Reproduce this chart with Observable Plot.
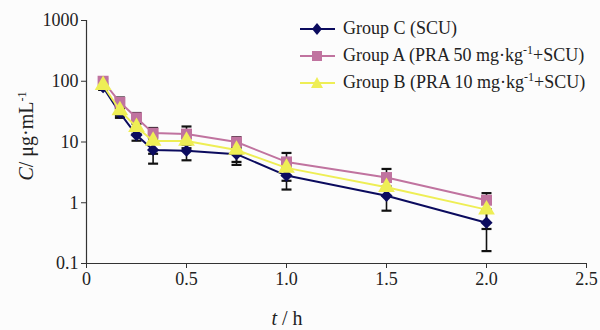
<!DOCTYPE html>
<html><head><meta charset="utf-8">
<script src="https://cdn.jsdelivr.net/npm/d3@7"></script>
<script src="https://cdn.jsdelivr.net/npm/@observablehq/plot@0.6"></script>
<style>
body{margin:0;background:#fcfcfc;}
#wrap{position:relative;width:600px;height:330px;font-family:"Liberation Serif","DejaVu Serif",serif;color:#222;background:#fcfcfc;}
#wrap > svg{position:absolute;left:0;top:0;}
.legend{position:absolute;left:300px;top:15px;font-size:18px;line-height:27px;}
.legend .row{display:flex;align-items:center;height:27px;white-space:nowrap;}
.legend .row svg{margin-right:7px;flex:none;}
sup{font-size:12px;vertical-align:7px;line-height:0;}
.ylab{position:absolute;left:26px;top:136px;transform:translate(-50%,-50%) rotate(-90deg);font-size:20px;white-space:nowrap;}
.xlab{position:absolute;left:287px;top:318px;transform:translate(-50%,-50%);font-size:20px;white-space:nowrap;}
</style></head><body><div id="wrap"></div>
<script>
const times = [0.083, 0.167, 0.25, 0.333, 0.5, 0.75, 1.0, 1.5, 2.0];
const groupC = [80, 30, 13, 7.4, 7.2, 6.3, 2.8, 1.3, 0.47];
const groupCsd = [8, 5, 2.5, 3, 2.2, 2.1, 1.15, 0.56, 0.31];
const groupA = [100, 45, 25, 14, 13.5, 10, 4.7, 2.6, 1.1];
const groupAsd = [10, 9, 5, 3, 4.5, 2, 1.9, 1.0, 0.34];
const groupB = [86, 33, 17.6, 10.4, 10.4, 7.4, 3.75, 1.8, 0.77];
const groupBsd = [10, 6, 4, 4, 2.5, 2.7, 1.45, 0.5, 0.4];
const seriesNames = ["Group C (SCU)", "Group A (PRA 50 mg·kg-1+SCU)", "Group B (PRA 10 mg·kg-1+SCU)"];
const legendHtml = ["Group C (SCU)", "Group A (PRA 50 mg·kg<sup>-1</sup>+SCU)", "Group B (PRA 10 mg·kg<sup>-1</sup>+SCU)"];
const colors = ["#0b0b5e", "#c0739f", "#eeee55"];
const symbols = ["diamond2", "square", "triangle"];
const xTicks = [0, 0.5, 1.0, 1.5, 2.0, 2.5];
const yTicks = [0.1, 1, 10, 100, 1000];

const seriesVals = [groupC, groupA, groupB];
const seriesSd = [groupCsd, groupAsd, groupBsd];
const rows = [];
seriesNames.forEach((name, i) => {
  times.forEach((t, j) => {
    const v = seriesVals[i][j], sd = seriesSd[i][j];
    rows.push({series: name, idx: i, t, v, lo: v - sd, hi: v + sd});
  });
});

const cap = {draw(ctx, size) { const w = 5; ctx.moveTo(-w, 0); ctx.lineTo(w, 0); }};

const marks = [
  Plot.ruleX(rows, {x: "t", y1: "lo", y2: "hi", stroke: "#111", strokeWidth: 1.6}),
  Plot.dot(rows, {x: "t", y: "lo", symbol: () => cap, stroke: "#111", strokeWidth: 2.2, r: 4}),
  Plot.dot(rows, {x: "t", y: "hi", symbol: () => cap, stroke: "#111", strokeWidth: 2.2, r: 4}),
];
seriesNames.forEach((name, i) => {
  const d = rows.filter(r => r.idx === i);
  marks.push(Plot.line(d, {x: "t", y: "v", stroke: colors[i], strokeWidth: 2}));
  marks.push(Plot.dot(d, {x: "t", y: "v", fill: colors[i], symbol: symbols[i], r: i === 0 ? 5.5 : 6.2}));
});
marks.push(Plot.ruleX([0], {stroke: "#333", strokeWidth: 1.2}));
marks.push(Plot.ruleY([0.1], {stroke: "#333", strokeWidth: 1.2}));
marks.push(Plot.axisY({ticks: yTicks, tickFormat: d => String(d), tickSize: 5, tickPadding: 3, label: null, stroke: "#333"}));
marks.push(Plot.axisX({ticks: xTicks, tickFormat: d => d === 0 ? "0" : d.toFixed(1), tickSize: 5, tickPadding: 4, label: null, stroke: "#333"}));

const plot = Plot.plot({
  width: 600, height: 330,
  marginLeft: 86, marginRight: 14, marginTop: 20, marginBottom: 67,
  x: {domain: [0, 2.5]},
  y: {type: "log", domain: [0.1, 1000]},
  style: {fontFamily: "'Liberation Serif','DejaVu Serif',serif", fontSize: "18px", background: "transparent", color: "#222"},
  marks
});
const wrap = document.getElementById("wrap");
wrap.appendChild(plot);

const legend = document.createElement("div");
legend.className = "legend";
const symPaths = [
  c => `<path d="M17,4 L22,10 L17,16 L12,10 Z" fill="${c}"/>`,
  c => `<rect x="12" y="5" width="10" height="10" fill="${c}"/>`,
  c => `<path d="M17,4 L23,15 L11,15 Z" fill="${c}"/>`
];
seriesNames.forEach((name, i) => {
  const row = document.createElement("div");
  row.className = "row";
  row.innerHTML = `<svg width="36" height="20"><line x1="0" x2="35" y1="10" y2="10" stroke="${colors[i]}" stroke-width="2"/>${symPaths[i](colors[i])}</svg><span>${legendHtml[i]}</span>`;
  legend.appendChild(row);
});
wrap.appendChild(legend);

const ylab = document.createElement("div");
ylab.className = "ylab";
ylab.innerHTML = "<i>C</i>/ μg·mL<sup>-1</sup>";
wrap.appendChild(ylab);
const xlab = document.createElement("div");
xlab.className = "xlab";
xlab.innerHTML = "<i>t</i> / h";
wrap.appendChild(xlab);
</script></body></html>
